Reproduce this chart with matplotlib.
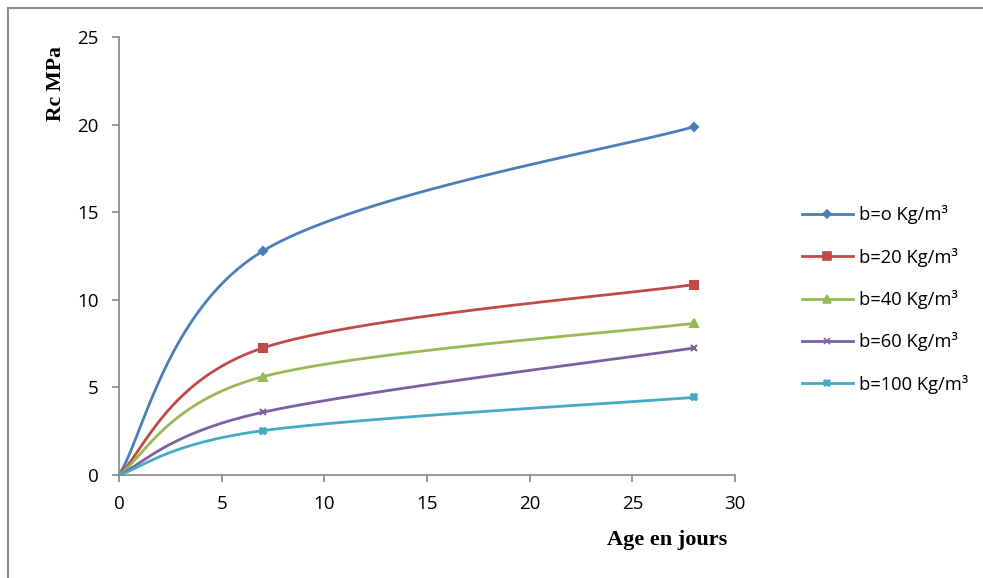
import numpy as np
import matplotlib
matplotlib.use("Agg")
import matplotlib.pyplot as plt
from matplotlib.lines import Line2D

# donnees
ages = [0, 7, 28]
labels = ["b=o Kg/m³", "b=20 Kg/m³", "b=40 Kg/m³", "b=60 Kg/m³", "b=100 Kg/m³"]
rc_b0 = [0, 12.78, 19.88]
rc_b20 = [0, 7.25, 10.87]
rc_b40 = [0, 5.61, 8.66]
rc_b60 = [0, 3.58, 7.25]
rc_b100 = [0, 2.53, 4.43]
series = [rc_b0, rc_b20, rc_b40, rc_b60, rc_b100]

colors = ["#4a7ebb", "#be4b48", "#98b954", "#7d60a0", "#46aac5"]
markers = ["D", "s", "^", "x", "X"]
msizes = [4, 6, 6, 5, 5]


def excel_smooth(x, y, n=60):
    # lissage type Excel: bezier avec points de controle a 1/6
    p = np.column_stack([x, y]).astype(float)
    pts = np.vstack([p[0], p, p[-1]])
    t = np.linspace(0, 1, n)[:, None]
    out = []
    for i in range(1, len(pts) - 2):
        p0, p1 = pts[i], pts[i + 1]
        c1 = p0 + (pts[i + 1] - pts[i - 1]) / 6
        c2 = p1 - (pts[i + 2] - pts[i]) / 6
        seg = ((1 - t) ** 3) * p0 + 3 * ((1 - t) ** 2) * t * c1 + 3 * (1 - t) * t ** 2 * c2 + t ** 3 * p1
        out.append(seg)
    out = np.vstack(out)
    return out[:, 0], out[:, 1]


fig = plt.figure(figsize=(9.83, 5.78), dpi=100)
ax = fig.add_axes([119 / 983, 1 - 475 / 578, (735 - 119) / 983, (475 - 37) / 578])

for vals, lab, c, m, ms in zip(series, labels, colors, markers, msizes):
    sx, sy = excel_smooth(ages, vals)
    ax.plot(sx, sy, color=c, lw=2, solid_capstyle="round")
    ax.plot(ages, vals, ls="none", marker=m, color=c, ms=ms, mew=1.5)

ax.set_xlim(0, 30)
ax.set_ylim(0, 25)
ax.set_xticks(range(0, 31, 5))
ax.set_yticks(range(0, 26, 5))
for s in ["top", "right"]:
    ax.spines[s].set_visible(False)
for s in ["left", "bottom"]:
    ax.spines[s].set_color("#868686")
    ax.spines[s].set_linewidth(1.2)
ax.tick_params(direction="out", length=4.7, width=1.2, color="#868686",
               labelsize=13.5)
ax.tick_params(axis="x", pad=9.5)
ax.tick_params(axis="y", pad=10)
for lbl in ax.get_xticklabels() + ax.get_yticklabels():
    lbl.set_family("Open Sans")

fig.text(667 / 983, 1 - 540 / 578, "Age en jours", ha="center", va="center",
         family="Liberation Serif", fontweight="bold", fontsize=16)
fig.text(56 / 983, 1 - 84 / 578, "Rc MPa", ha="center", va="center", rotation=90,
         family="Liberation Serif", fontweight="bold", fontsize=15.6)

handles = [Line2D([0], [0], color=c, lw=2, marker=m, ms=ms * 0.9, mew=1.2)
           for c, m, ms in zip(colors, markers, msizes)]
fig.legend(handles, labels, loc="upper left", bbox_to_anchor=(785 / 983, 1 - 189 / 578),
           frameon=False, prop={"family": "Open Sans", "size": 13.2},
           labelspacing=1.27, handlelength=2.8, handletextpad=0.32)

# cadre autour du graphique
fig.add_artist(Line2D([8 / 983, 8 / 983], [0, 1 - 8 / 578], color="#8c8c8c", lw=1.5,
                      transform=fig.transFigure))
fig.add_artist(Line2D([8 / 983, 1], [1 - 8 / 578, 1 - 8 / 578], color="#8c8c8c", lw=1.5,
                      transform=fig.transFigure))

fig.savefig("out.png", dpi=100)
